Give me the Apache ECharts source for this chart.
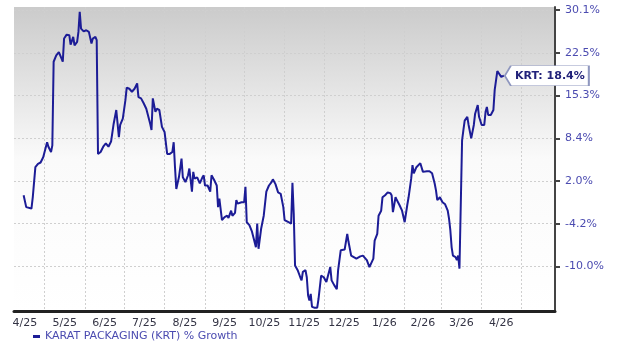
<!DOCTYPE html>
<html><head><meta charset="utf-8">
<script src="https://cdn.jsdelivr.net/npm/echarts@6/dist/echarts.min.js"></script>
<style>html,body{margin:0;padding:0;background:#fff;}#c{width:620px;height:349px;}</style>
</head><body><div id="c"></div>
<script>
const seriesName = 'KARAT PACKAGING (KRT) % Growth';
const ticker = 'KRT';

const dates = [
'2025-04-15','2025-04-17','2025-04-18','2025-04-21','2025-04-22','2025-04-23','2025-04-24','2025-04-26','2025-04-28','2025-04-30',
'2025-05-01','2025-05-03','2025-05-04','2025-05-06','2025-05-07','2025-05-08','2025-05-10','2025-05-12','2025-05-14','2025-05-15','2025-05-16','2025-05-18','2025-05-20','2025-05-21','2025-05-23','2025-05-24','2025-05-26','2025-05-27','2025-05-28','2025-05-29','2025-05-31',
'2025-06-02','2025-06-04','2025-06-06','2025-06-07','2025-06-09','2025-06-10','2025-06-11','2025-06-13','2025-06-15','2025-06-17','2025-06-19','2025-06-21','2025-06-23','2025-06-25','2025-06-27','2025-06-28','2025-06-30',
'2025-07-02','2025-07-03','2025-07-05','2025-07-07','2025-07-09','2025-07-11','2025-07-12','2025-07-14','2025-07-16','2025-07-18','2025-07-21','2025-07-22','2025-07-23','2025-07-25','2025-07-26','2025-07-28','2025-07-30',
'2025-08-01','2025-08-03','2025-08-05','2025-08-07','2025-08-08','2025-08-09','2025-08-10','2025-08-12','2025-08-14','2025-08-15','2025-08-17','2025-08-19','2025-08-20','2025-08-22','2025-08-23','2025-08-24','2025-08-26','2025-08-28','2025-08-30','2025-08-31',
'2025-09-01','2025-09-03','2025-09-05','2025-09-06','2025-09-08','2025-09-10','2025-09-11','2025-09-12','2025-09-14','2025-09-16','2025-09-18','2025-09-19','2025-09-21','2025-09-22','2025-09-24','2025-09-25','2025-09-26','2025-09-29',
'2025-10-01','2025-10-02','2025-10-03','2025-10-05','2025-10-07','2025-10-09','2025-10-10','2025-10-11','2025-10-12','2025-10-14','2025-10-16','2025-10-18','2025-10-20','2025-10-22','2025-10-23','2025-10-25','2025-10-27','2025-10-29','2025-10-31',
'2025-11-01','2025-11-04','2025-11-06','2025-11-07','2025-11-08','2025-11-09','2025-11-11','2025-11-13','2025-11-14','2025-11-15','2025-11-17','2025-11-18','2025-11-19','2025-11-20','2025-11-21','2025-11-22','2025-11-24','2025-11-26','2025-11-27','2025-11-29',
'2025-12-01','2025-12-03','2025-12-04','2025-12-06','2025-12-07','2025-12-09','2025-12-11','2025-12-12','2025-12-14','2025-12-17','2025-12-18','2025-12-19','2025-12-20','2025-12-22','2025-12-24','2025-12-26','2025-12-29','2025-12-31',
'2026-01-03','2026-01-05','2026-01-06','2026-01-08','2026-01-09','2026-01-11','2026-01-12','2026-01-14','2026-01-15','2026-01-17','2026-01-19','2026-01-21','2026-01-22','2026-01-23','2026-01-25','2026-01-26','2026-01-28','2026-01-30',
'2026-02-01','2026-02-02','2026-02-03','2026-02-04','2026-02-06','2026-02-07','2026-02-08','2026-02-10','2026-02-11','2026-02-13','2026-02-15','2026-02-18','2026-02-20','2026-02-22','2026-02-24','2026-02-25','2026-02-26','2026-02-28',
'2026-03-02','2026-03-04','2026-03-06','2026-03-07','2026-03-08','2026-03-09','2026-03-10','2026-03-12','2026-03-13','2026-03-14','2026-03-15','2026-03-16','2026-03-17','2026-03-18','2026-03-19','2026-03-21','2026-03-22','2026-03-24','2026-03-26','2026-03-27','2026-03-29','2026-03-30',
'2026-04-01','2026-04-03','2026-04-04','2026-04-05','2026-04-06','2026-04-08','2026-04-10','2026-04-11','2026-04-13','2026-04-14','2026-04-16','2026-04-18'
];

const growth = [
-0.3,-2.0,-2.2,-2.2,-0.6,-0.7,3.8,4.3,4.5,5.3,
5.6,7.6,6.9,6.1,7.1,20.8,21.9,22.5,21.4,20.8,24.9,25.6,25.5,23.8,25.2,23.7,24.3,26.1,29.8,26.7,26.2,
26.4,26.1,24.0,24.9,25.2,24.6,5.8,6.1,6.9,7.4,6.9,7.7,10.5,12.7,8.4,10.3,11.3,
14.3,16.4,16.2,15.7,16.2,17.1,14.8,14.6,13.8,12.9,10.5,9.5,14.6,12.4,12.9,12.7,10.0,
9.2,5.8,5.8,6.1,7.6,3.8,0.6,2.3,5.1,2.3,1.6,2.6,3.6,0.2,3.1,2.1,2.3,1.4,2.3,2.6,
1.1,1.1,0.2,2.6,1.9,1.1,-2.0,-0.8,-3.8,-3.4,-3.2,-3.5,-2.5,-3.2,-2.8,-1.0,-1.5,-1.3,
-1.3,0.9,-4.1,-4.5,-5.4,-6.8,-7.5,-4.3,-7.7,-5.0,-3.2,0.2,1.1,1.6,2.0,1.3,0.1,-0.1,-2.0,
-3.8,-4.1,-4.3,1.5,-2.9,-9.9,-10.5,-11.4,-11.8,-10.7,-10.5,-11.4,-13.7,-14.3,-13.5,-15.1,-15.2,-15.2,-14.1,-11.2,
-11.4,-12.0,-11.8,-10.1,-11.8,-12.4,-12.9,-10.5,-7.9,-7.8,-7.9,-5.7,-6.8,-8.6,-8.8,-9.0,-8.7,-8.6,
-9.2,-10.1,-9.9,-9.0,-6.6,-5.7,-3.2,-2.5,-0.6,-0.3,0.1,0.0,-0.3,-2.7,-0.6,-1.0,-1.7,-2.5,
-4.1,-4.3,-1.7,-0.6,2.1,4.1,2.9,3.8,3.9,4.4,3.1,3.2,3.2,2.9,1.4,0.4,-1.0,-0.6,
-1.3,-1.6,-2.5,-3.6,-5.2,-7.5,-8.6,-8.8,-9.2,-8.6,-10.3,-10.4,7.9,9.5,11.0,11.6,10.3,8.2,10.3,12.1,13.5,11.6,
10.3,10.3,12.4,13.2,11.9,11.9,12.7,16.0,19.2,19.0,18.2,18.4
];

const yTickLabels = ['-10.0%','-4.2%','2.0%','8.4%','15.3%','22.5%','30.1%'];
const yTickEnds = [-10.0, 30.1];
const yRange = [-15.6, 30.7];
const xLabels = ['4/25','5/25','6/25','7/25','8/25','9/25','10/25','11/25','12/25','1/26','2/26','3/26','4/26'];
const xRange = ['2025-04-07T15', '2026-05-27T05'];

// helpers
function ts(s) {
  const [dp, hp] = s.split('T');
  const [y, m, d] = dp.split('-').map(Number);
  return new Date(y, m - 1, d, hp ? Number(hp) : 0).getTime();
}
const T = g => Math.log(1 + g / 100);
const tLow = T(yTickEnds[0]), tHigh = T(yTickEnds[1]);
const tStep = (tHigh - tLow) / (yTickLabels.length - 1);
const yTicks = yTickLabels.map((_, i) => tLow + i * tStep);

const monthStarts = xLabels.map(l => { const [m, y] = l.split('/').map(Number); return new Date(2000 + y, m - 1, 1).getTime(); });
const last = xLabels[xLabels.length - 1].split('/').map(Number);
const afterLast = new Date(2000 + last[1], last[0], 1).getTime();
const bounds = monthStarts.concat([afterLast]);
const midMonths = monthStarts.map((s, i) => (s + bounds[i + 1]) / 2);
const xMin = ts(xRange[0]), xMax = ts(xRange[1]);
const gridMonths = bounds.filter(v => v > xMin && v < xMax);

const seriesData = dates.map((d, i) => [ts(d), T(growth[i])]);
const lastIdx = dates.length - 1;
const lastVal = growth[lastIdx];

function nearestIdx(arr, v) {
  let bi = 0, bd = Infinity;
  arr.forEach((a, i) => { const dd = Math.abs(a - v); if (dd < bd) { bd = dd; bi = i; } });
  return bi;
}

const FONT = 'DejaVu Sans';
const chart = echarts.init(document.getElementById('c'), null, { renderer: 'canvas' });
chart.setOption({
  animation: false,
  backgroundColor: '#ffffff',
  grid: {
    left: 14, right: 65, top: 7, bottom: 38,
    show: true, borderWidth: 0,
    backgroundColor: {
      type: 'linear', x: 0, y: 0, x2: 0, y2: 1,
      colorStops: [
        { offset: 0, color: '#cbcbcb' },
        { offset: 0.5, color: '#fafafa' },
        { offset: 1, color: '#ffffff' }
      ]
    }
  },
  legend: {
    left: 33, top: 331, padding: 0,
    icon: 'rect', itemWidth: 7, itemHeight: 3,
    textStyle: { color: '#4b4bb0', fontSize: 11, fontFamily: FONT },
    data: [seriesName]
  },
  xAxis: {
    type: 'value', min: xMin, max: xMax,
    axisLine: { show: true, onZero: false, lineStyle: { color: '#222', width: 3 } },
    axisTick: { show: false, customValues: gridMonths },
    splitLine: { show: true, lineStyle: { color: '#cfcfcf', width: 1, type: [2, 2] } },
    axisLabel: {
      customValues: midMonths, margin: 7,
      color: '#333344', fontSize: 11, fontFamily: FONT,
      formatter: v => xLabels[nearestIdx(midMonths, v)]
    }
  },
  yAxis: {
    type: 'value', position: 'right', min: T(yRange[0]), max: T(yRange[1]),
    axisLine: { show: true, lineStyle: { color: '#444', width: 2 } },
    axisTick: { show: true, inside: false, length: 5, customValues: yTicks, lineStyle: { color: '#444', width: 2 } },
    splitLine: { show: true, lineStyle: { color: '#cfcfcf', width: 1, type: [2, 2] } },
    axisLabel: {
      customValues: yTicks, margin: 10,
      color: '#4b4bb0', fontSize: 11, fontFamily: FONT,
      formatter: v => yTickLabels[nearestIdx(yTicks, v)]
    }
  },
  series: [{
    name: seriesName, type: 'line', showSymbol: false, symbol: 'none',
    data: seriesData,
    itemStyle: { color: '#1c1c96' },
    lineStyle: { color: '#1c1c96', width: 2 },
    markPoint: {
      symbol: 'path://M0,10L6,0L84,0L84,20L6,20Z',
      symbolSize: [84, 20], symbolOffset: [43, 0], symbolKeepAspect: false,
      itemStyle: { color: '#ffffff', borderColor: '#8f97bf', borderWidth: 1 },
      label: {
        show: true, position: 'inside', offset: [3, 0],
        color: '#22227a', fontSize: 11, fontWeight: 'bold', fontFamily: FONT,
        formatter: () => ticker + ': ' + lastVal.toFixed(1) + '%'
      },
      data: [{ coord: seriesData[lastIdx], value: lastVal }]
    }
  }]
});
</script>
</body></html>
